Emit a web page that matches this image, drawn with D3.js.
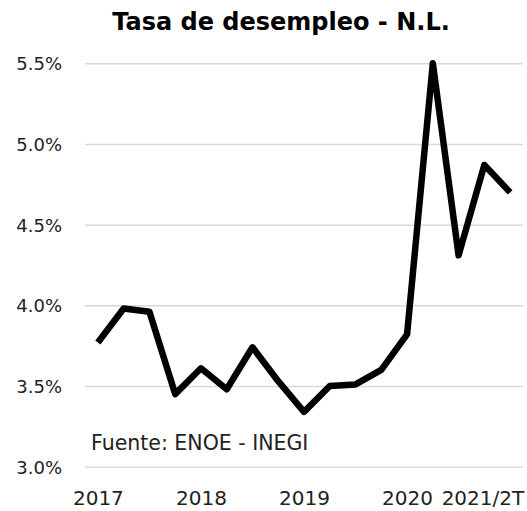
<!DOCTYPE html>
<html>
<head>
<meta charset="utf-8">
<script src="https://cdn.jsdelivr.net/npm/d3@7"></script>
<style>
  html, body { margin: 0; padding: 0; background: #fff; }
  svg { display: block; font-family: "DejaVu Sans", sans-serif; }
</style>
</head>
<body>
<svg id="chart" width="527" height="511"></svg>
<script>
// trimestres ENOE (sin 2020/2T)
const periods = ["2017/1T","2017/2T","2017/3T","2017/4T",
                 "2018/1T","2018/2T","2018/3T","2018/4T",
                 "2019/1T","2019/2T","2019/3T","2019/4T",
                 "2020/1T","2020/3T","2020/4T","2021/1T","2021/2T"];
// tasa de desempleo N.L. (%)
const values = [3.77, 3.98, 3.96, 3.45, 3.61, 3.48, 3.74, 3.53,
                3.34, 3.50, 3.51, 3.60, 3.82, 5.50, 4.31, 4.87, 4.70];
// etiquetas visibles del eje x
const xLabels = ["2017","","","","2018","","","","2019","","","","2020","","","","2021/2T"];
const yTicks = [3.0, 3.5, 4.0, 4.5, 5.0, 5.5];

const W = 527, H = 511;
const plot = { left: 85, right: 523, top: 63.3, bottom: 466.7 };

const svg = d3.select('#chart');
svg.append('rect').attr('width', W).attr('height', H).attr('fill', '#fff');

const x = d3.scalePoint()
    .domain(periods)
    .range([plot.left, plot.right])
    .padding(0.5);

const y = d3.scaleLinear()
    .domain([3.0, 5.5])
    .range([plot.bottom, plot.top]);

/*Eje y con lineas de cuadricula*/
const yAxis = svg.append('g')
    .attr('transform', 'translate(' + plot.left + ',0)')
    .call(d3.axisLeft(y)
        .tickValues(yTicks)
        .tickSize(-(plot.right - plot.left))
        .tickPadding(23)
        .tickFormat(d => d3.format('.1f')(d) + '%'));
yAxis.select('.domain').remove();
yAxis.selectAll('.tick line')
    .attr('stroke', '#d9d9d9')
    .attr('stroke-width', 1.5);
yAxis.selectAll('.tick text')
    .attr('font-size', 18)
    .attr('font-family', '"DejaVu Sans", sans-serif')
    .attr('fill', '#222')
    .attr('dy', '0.36em');

/*Eje x*/
const xAxis = svg.append('g')
    .attr('transform', 'translate(0,' + plot.bottom + ')')
    .call(d3.axisBottom(x)
        .tickSize(0)
        .tickPadding(24)
        .tickFormat((d, i) => xLabels[i]));
xAxis.select('.domain').remove();
xAxis.selectAll('.tick text')
    .attr('font-size', 20)
    .attr('font-family', '"DejaVu Sans", sans-serif')
    .attr('fill', '#222')
    .attr('dy', '0.71em');
// la ultima etiqueta se recorre para que quepa
xAxis.selectAll('.tick text').each(function() {
    const b = this.getBBox();
    const tx = +this.parentNode.getAttribute('transform').match(/translate\(([^,]+)/)[1];
    const over = tx + b.x + b.width - (W - 2);
    if (over > 0) d3.select(this).attr('x', -over);
});

/*Serie*/
const line = d3.line()
    .x((d, i) => x(periods[i]))
    .y(d => y(d));

svg.append('path')
    .datum(values)
    .attr('d', line)
    .attr('fill', 'none')
    .attr('stroke', '#000')
    .attr('stroke-width', 6.5)
    .attr('stroke-linejoin', 'round');

/*Titulo y fuente*/
svg.append('text')
    .text('Tasa de desempleo - N.L.')
    .attr('x', 281)
    .attr('y', 29.5)
    .attr('text-anchor', 'middle')
    .attr('font-size', 24)
    .attr('font-weight', 'bold')
    .attr('fill', '#000');

svg.append('text')
    .text('Fuente: ENOE - INEGI')
    .attr('x', 91)
    .attr('y', 450)
    .attr('font-size', 20.5)
    .attr('fill', '#222');
</script>
</body>
</html>
